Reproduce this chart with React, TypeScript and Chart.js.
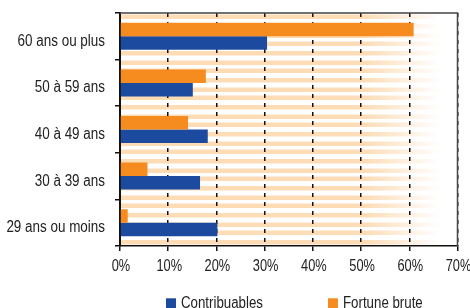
import React, { useEffect, useRef } from "react";
import { Chart, registerables } from "chart.js";

Chart.register(...registerables);

const categories = ["60 ans ou plus", "50 à 59 ans", "40 à 49 ans", "30 à 39 ans", "29 ans ou moins"];
const seriesNames = ["Fortune brute", "Contribuables"];
const fortuneBrute = [60.9, 17.8, 14.1, 5.7, 1.6];
const contribuables = [30.5, 15.1, 18.2, 16.6, 20.2];
const seriesColors = ["#F68B1F", "#1B4A9E"];
const xTickValues = [0, 10, 20, 30, 40, 50, 60, 70];
const xTickLabels = ["0%", "10%", "20%", "30%", "40%", "50%", "60%", "70%"];

const FONT = "'Liberation Sans', Arial, Helvetica, sans-serif";
const TEXT = "#222222";

// Draws condensed text (the reference uses a narrow Helvetica)
function condensedText(ctx: any, text: string, x: number, y: number, align: string, sx: number) {
  ctx.save();
  ctx.translate(x, y);
  ctx.scale(sx, 1);
  ctx.textAlign = align;
  ctx.textBaseline = "alphabetic";
  ctx.fillText(text, 0, 0);
  ctx.restore();
}

const decorPlugin = {
  id: "decor",
  beforeDraw(chart: any) {
    const { ctx, chartArea: a } = chart;
    if (!a) return;
    ctx.save();
    ctx.fillStyle = "#ffffff";
    ctx.fillRect(0, 0, chart.width, chart.height);
    ctx.beginPath();
    ctx.rect(a.left, a.top, a.right - a.left, a.bottom - a.top);
    ctx.clip();
    const period = 9;
    for (let y = a.top + 2, i = 0; y < a.bottom; y += period, i++) {
      ctx.fillStyle = "#FDDCB6";
      const wobble = (i % 3) - 1;
      ctx.fillRect(a.left, y + wobble * 0.5, a.right - a.left, 4.5);
    }
    const w = a.right - a.left;
    const g = ctx.createLinearGradient(a.left + w * 0.72, 0, a.left + w * 0.95, 0);
    g.addColorStop(0, "rgba(255,255,255,0)");
    g.addColorStop(1, "rgba(255,255,255,1)");
    ctx.fillStyle = g;
    ctx.fillRect(a.left, a.top, w, a.bottom - a.top);
    ctx.restore();
  },
  afterDraw(chart: any) {
    const { ctx, chartArea: a, scales } = chart;
    ctx.save();
    ctx.strokeStyle = "#444444";
    ctx.lineWidth = 1.5;
    ctx.beginPath();
    ctx.moveTo(a.left, a.top);
    ctx.lineTo(a.right, a.top);
    ctx.lineTo(a.right, a.bottom);
    ctx.stroke();

    ctx.fillStyle = TEXT;
    ctx.font = "16px " + FONT;
    // category labels
    categories.forEach((c, i) => {
      const y = scales.y.getPixelForValue(i);
      condensedText(ctx, c, a.left - 15, y + 9.5, "right", 0.84);
    });
    // x tick labels
    xTickValues.forEach((v, i) => {
      const x = scales.x.getPixelForValue(v);
      condensedText(ctx, xTickLabels[i], x + 1, a.bottom + 25.3, "center", 0.8);
    });
    // legend
    const legend = [
      { name: seriesNames[1], color: seriesColors[1], x: 166 },
      { name: seriesNames[0], color: seriesColors[0], x: 328 },
    ];
    legend.forEach((it) => {
      ctx.fillStyle = it.color;
      ctx.fillRect(it.x, a.bottom + 52.3, 10, 10);
      ctx.fillStyle = TEXT;
      condensedText(ctx, it.name, it.x + 15, a.bottom + 62.3, "left", 0.83);
    });
    ctx.restore();
  },
};

function App() {
  const ref = useRef<HTMLCanvasElement | null>(null);
  useEffect(() => {
    if (!ref.current) return;
    const chart = new Chart(ref.current, {
      type: "bar",
      data: {
        labels: categories,
        datasets: [
          { label: seriesNames[0], data: fortuneBrute, backgroundColor: seriesColors[0], borderWidth: 0 },
          { label: seriesNames[1], data: contribuables, backgroundColor: seriesColors[1], borderWidth: 0 },
        ],
      },
      options: {
        indexAxis: "y",
        animation: false,
        responsive: true,
        maintainAspectRatio: false,
        layout: { padding: { top: 13, left: 0, right: 12.5, bottom: 0 } },
        datasets: { bar: { barPercentage: 1, categoryPercentage: 0.58 } },
        plugins: { legend: { display: false }, tooltip: { enabled: false } },
        scales: {
          x: {
            type: "linear",
            min: xTickValues[0],
            max: xTickValues[xTickValues.length - 1],
            ticks: { stepSize: 10, display: false },
            grid: {
              color: "#111111",
              lineWidth: 1.5,
              tickLength: 5,
              tickBorderDash: [],
            },
            border: { display: true, color: "#111111", width: 1.5, dash: [4, 5] },
            afterFit: (s: any) => {
              s.height = 62;
            },
          },
          y: {
            type: "category",
            offset: true,
            ticks: { display: false },
            grid: {
              offset: true,
              drawOnChartArea: false,
              color: "#111111",
              lineWidth: 1.5,
              tickLength: 5,
            },
            border: { display: true, color: "#111111", width: 2 },
            afterFit: (s: any) => {
              s.width = 120;
            },
          },
        },
      },
      plugins: [decorPlugin],
    } as any);
    return () => chart.destroy();
  }, []);

  return (
    <div style={{ position: "absolute", left: 0, top: 0, width: 470, height: 308, overflow: "hidden", background: "#fff" }}>
      <canvas ref={ref} />
    </div>
  );
}

export default App;
